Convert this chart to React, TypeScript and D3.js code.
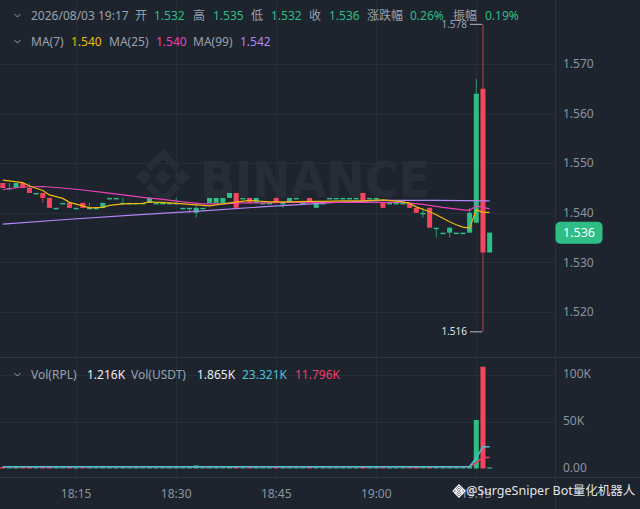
import React from 'react';
import * as d3 from 'd3';

const W = 640;
const H = 509;
const PLOT_R = 555;
const MAIN_B = 357;
const VOL_T = 358;
const AXIS_T = 477;

const BG = '#1e242e';
const GRID = '#272e38';
const UP = '#2ebd85';
const DOWN = '#f6465d';
const LABEL = '#9aa1ac';
const AXIS_TXT = '#8c94a0';
const FONT = "'Noto Sans', 'Noto Sans CJK SC', sans-serif";

// 1m candles, first one at 18:04
const firstCandle = new Date(2026, 7, 3, 18, 4);
const opens = [
  1.546, 1.545, 1.545, 1.546, 1.545, 1.544, 1.544, 1.543, 1.541, 1.542,
  1.542, 1.541, 1.542, 1.541, 1.541, 1.541, 1.543, 1.543, 1.542, 1.542,
  1.542, 1.542, 1.542, 1.542, 1.542, 1.542, 1.542, 1.541, 1.541, 1.540,
  1.541, 1.542, 1.542, 1.542, 1.543, 1.544, 1.543, 1.543, 1.542, 1.542,
  1.542, 1.543, 1.542, 1.542, 1.543, 1.542, 1.543, 1.541, 1.542, 1.543,
  1.543, 1.543, 1.543, 1.543, 1.544, 1.543, 1.543, 1.542, 1.542, 1.542,
  1.542, 1.542, 1.541, 1.540, 1.541, 1.537, 1.536, 1.536, 1.536, 1.536,
  1.536, 1.538, 1.565, 1.532,
];
const highs = [
  1.546, 1.546, 1.546, 1.546, 1.546, 1.544, 1.544, 1.543, 1.541, 1.542,
  1.542, 1.541, 1.542, 1.542, 1.541, 1.542, 1.543, 1.543, 1.543, 1.542,
  1.542, 1.542, 1.543, 1.542, 1.542, 1.542, 1.543, 1.541, 1.541, 1.542,
  1.541, 1.543, 1.543, 1.543, 1.544, 1.544, 1.543, 1.543, 1.543, 1.542,
  1.542, 1.543, 1.542, 1.543, 1.543, 1.542, 1.543, 1.542, 1.542, 1.543,
  1.543, 1.543, 1.543, 1.543, 1.544, 1.543, 1.543, 1.542, 1.542, 1.542,
  1.542, 1.542, 1.541, 1.541, 1.541, 1.537, 1.536, 1.537, 1.536, 1.536,
  1.541, 1.567, 1.578, 1.536,
];
const lows = [
  1.545, 1.545, 1.545, 1.545, 1.544, 1.544, 1.542, 1.541, 1.541, 1.542,
  1.541, 1.541, 1.541, 1.541, 1.541, 1.541, 1.543, 1.543, 1.542, 1.542,
  1.542, 1.542, 1.542, 1.542, 1.542, 1.542, 1.542, 1.541, 1.540, 1.539,
  1.541, 1.542, 1.542, 1.542, 1.543, 1.541, 1.543, 1.542, 1.542, 1.542,
  1.542, 1.542, 1.541, 1.542, 1.543, 1.542, 1.542, 1.541, 1.542, 1.543,
  1.543, 1.543, 1.543, 1.543, 1.542, 1.543, 1.542, 1.541, 1.542, 1.542,
  1.542, 1.541, 1.540, 1.539, 1.537, 1.535, 1.536, 1.535, 1.536, 1.536,
  1.536, 1.538, 1.516, 1.532,
];
const closes = [
  1.545, 1.545, 1.546, 1.545, 1.544, 1.544, 1.543, 1.541, 1.541, 1.542,
  1.541, 1.541, 1.541, 1.541, 1.541, 1.542, 1.543, 1.543, 1.542, 1.542,
  1.542, 1.542, 1.543, 1.542, 1.542, 1.542, 1.542, 1.541, 1.541, 1.541,
  1.541, 1.543, 1.543, 1.543, 1.544, 1.541, 1.543, 1.542, 1.543, 1.542,
  1.542, 1.542, 1.542, 1.543, 1.543, 1.542, 1.542, 1.542, 1.542, 1.543,
  1.543, 1.543, 1.543, 1.543, 1.542, 1.543, 1.543, 1.541, 1.542, 1.542,
  1.542, 1.541, 1.540, 1.540, 1.537, 1.537, 1.536, 1.537, 1.536, 1.536,
  1.540, 1.564, 1.532, 1.536,
];
// volume in K RPL
const volumes = [
  1.6, 1.2, 1.5, 1.3, 1.7, 1.1, 1.4, 1.9, 1.2, 1.1,
  1.4, 1.0, 1.3, 1.1, 1.2, 1.4, 1.1, 1.0, 1.2, 1.1,
  1.0, 1.1, 1.3, 1.0, 1.1, 1.0, 1.2, 1.1, 1.3, 3.2,
  1.1, 1.4, 1.3, 1.2, 1.5, 1.8, 1.1, 1.3, 1.2, 1.0,
  1.1, 1.4, 1.2, 1.3, 1.1, 1.0, 1.4, 1.3, 1.1, 1.0,
  1.1, 1.0, 1.1, 1.0, 1.6, 1.1, 1.2, 1.4, 1.0, 1.1,
  1.1, 1.3, 1.5, 1.2, 2.0, 1.4, 1.1, 1.3, 1.0, 1.1,
  2.4, 51.9, 108.9, 1.216,
];

// moving averages (candle index -> value)
const ma7Idx = [0, 3, 4, 6, 7, 9, 10, 12, 13, 15, 16, 18, 21, 22, 25, 28, 30, 31, 34, 37, 40, 43, 46, 48, 51, 54, 57, 60, 61, 62, 64, 65, 66, 67, 68, 69, 70, 71, 72, 73];
const ma7Val = [1.5466, 1.5461, 1.5454, 1.5445, 1.5436, 1.5429, 1.5421, 1.5414, 1.5410, 1.5411, 1.5415, 1.5418, 1.5419, 1.5422, 1.5420, 1.5417, 1.5415, 1.5414, 1.5420, 1.5425, 1.5422, 1.5422, 1.5423, 1.5423, 1.5424, 1.5424, 1.5426, 1.5422, 1.5419, 1.5412, 1.5402, 1.5396, 1.5389, 1.5382, 1.5376, 1.5371, 1.5369, 1.5406, 1.5401, 1.5401];
const ma25Idx = [0, 3, 6, 9, 12, 15, 18, 21, 24, 27, 30, 33, 36, 39, 42, 48, 54, 60, 63, 66, 69, 70, 71, 72, 73];
const ma25Val = [1.5447, 1.5452, 1.5453, 1.5450, 1.5446, 1.5441, 1.5436, 1.5431, 1.5427, 1.5422, 1.5418, 1.5418, 1.5420, 1.5420, 1.5421, 1.5421, 1.5421, 1.5421, 1.5417, 1.5411, 1.5406, 1.5405, 1.5414, 1.5411, 1.5408];
const ma99Idx = [0, 10, 20, 30, 40, 45, 50, 57, 65, 73];
const ma99Val = [1.5377, 1.5387, 1.5396, 1.5404, 1.5413, 1.5417, 1.5421, 1.5425, 1.5425, 1.5424];
const vma5Idx = [0, 69, 70, 71, 72, 73];
const vma5Val = [1.8, 1.8, 2.2, 11.2, 23.3, 23.3];
const vma10Idx = [0, 70, 71, 72, 73];
const vma10Val = [1.8, 1.9, 6.4, 12.0, 11.8];

const priceTicks = [1.52, 1.53, 1.54, 1.55, 1.56, 1.57];
const volTicks = [0, 50, 100];
const volTickLabels = ['0.00', '50K', '100K'];
const lastPrice = '1.536';

const header1 = [
  { t: '2026/08/03 19:17', c: LABEL, x: 31 },
  { t: '开', c: LABEL, x: 135 }, { t: '1.532', c: UP, x: 154 },
  { t: '高', c: LABEL, x: 193 }, { t: '1.535', c: UP, x: 213 },
  { t: '低', c: LABEL, x: 251 }, { t: '1.532', c: UP, x: 271 },
  { t: '收', c: LABEL, x: 309 }, { t: '1.536', c: UP, x: 329 },
  { t: '涨跌幅', c: LABEL, x: 367 }, { t: '0.26%', c: UP, x: 410 },
  { t: '振幅', c: LABEL, x: 453 }, { t: '0.19%', c: UP, x: 485 },
];
const header2 = [
  { t: 'MA(7)', c: LABEL, x: 31 }, { t: '1.540', c: '#f0b90b', x: 71 },
  { t: 'MA(25)', c: LABEL, x: 109 }, { t: '1.540', c: '#eb40b5', x: 156 },
  { t: 'MA(99)', c: LABEL, x: 193 }, { t: '1.542', c: '#b385f8', x: 240 },
];
const header3 = [
  { t: 'Vol(RPL)', c: LABEL, x: 31 }, { t: '1.216K', c: '#eaecef', x: 87 },
  { t: 'Vol(USDT)', c: LABEL, x: 131 }, { t: '1.865K', c: '#eaecef', x: 197 },
  { t: '23.321K', c: '#4cc1d6', x: 242 }, { t: '11.796K', c: '#ee3f68', x: 295 },
];

const candleTime = (i: number) => d3.timeMinute.offset(firstCandle, i);

const x = d3.scaleTime()
  .domain([new Date(2026, 7, 3, 18, 3, 35), new Date(2026, 7, 3, 19, 26, 48)])
  .range([0, PLOT_R]);
const y = d3.scaleLinear().domain([1.52, 1.57]).range([312, 64]);
const yV = d3.scaleLinear().domain([0, 100]).range([468.5, 375]);

const priceLine = (idx: number[], vals: number[]) =>
  d3.line<number>().x((_, k) => x(candleTime(idx[k]))).y(d => y(d))(vals) || '';
const volLine = (idx: number[], vals: number[]) =>
  d3.line<number>().x((_, k) => x(candleTime(idx[k]))).y(d => yV(d))(vals) || '';

const logoShapes = [
  'M0,-8 L8,0 L0,8 L-8,0 Z',
  'M-19,-8 L-11,0 L-19,8 L-27,0 Z',
  'M19,-8 L27,0 L19,8 L11,0 Z',
  'M0,-28 L17,-11 L12,-6 L0,-18 L-12,-6 L-17,-11 Z',
  'M0,28 L17,11 L12,6 L0,18 L-12,6 L-17,11 Z',
];

const Chevron: React.FC<{ cy: number }> = ({ cy }) => (
  <path d={`M14.5,${cy - 2} L17.5,${cy + 1} L20.5,${cy - 2}`} fill="none" stroke={LABEL} strokeWidth={1} />
);

const HeaderRow: React.FC<{ items: { t: string; c: string; x: number }[]; cy: number }> = ({ items, cy }) => (
  <g>
    <Chevron cy={cy} />
    {items.map((it, k) => (
      <text key={k} x={it.x} y={cy} dy="0.35em" fill={it.c} fontSize={12}>{it.t}</text>
    ))}
  </g>
);

export default function App() {
  const n = closes.length;
  const timeTicks = x.ticks(d3.timeMinute.every(15) as d3.TimeInterval);
  const fmt = d3.timeFormat('%H:%M');

  const hiIdx = d3.maxIndex(highs);
  const loIdx = d3.minIndex(lows);
  const hiX = x(candleTime(hiIdx));
  const loX = x(candleTime(loIdx));

  return (
    <div>
      <style>{`body{margin:0;background:${BG}}`}</style>
      <svg width={W} height={H} style={{ display: 'block', fontFamily: FONT }}>
        <defs>
          <clipPath id="mainClip"><rect x={0} y={0} width={PLOT_R} height={MAIN_B} /></clipPath>
          <clipPath id="volClip"><rect x={0} y={VOL_T} width={PLOT_R} height={AXIS_T - VOL_T} /></clipPath>
        </defs>
        <rect width={W} height={H} fill={BG} />

        {/* grid */}
        {timeTicks.map((t, k) => (
          <line key={'vg' + k} x1={Math.round(x(t)) + 0.5} x2={Math.round(x(t)) + 0.5} y1={0} y2={AXIS_T} stroke={GRID} />
        ))}
        {priceTicks.map((p, k) => (
          <line key={'hg' + k} x1={0} x2={PLOT_R} y1={Math.round(y(p)) + 0.5} y2={Math.round(y(p)) + 0.5} stroke={GRID} />
        ))}
        {volTicks.slice(1).map((v, k) => (
          <line key={'vhg' + k} x1={0} x2={PLOT_R} y1={Math.round(yV(v)) + 0.5} y2={Math.round(yV(v)) + 0.5} stroke={GRID} />
        ))}

        {/* watermark */}
        <g fill="#272d37">
          <g transform="translate(163,177)">
            {logoShapes.map((d, k) => <path key={k} d={d} />)}
          </g>
          <text x={200} y={197} fontSize={50} fontWeight="bold" textLength={230} lengthAdjust="spacingAndGlyphs"
            fontFamily="'DejaVu Sans', sans-serif">BINANCE</text>
        </g>

        {/* pane borders */}
        <line x1={0} x2={W} y1={MAIN_B + 0.5} y2={MAIN_B + 0.5} stroke="#2f3641" />
        <line x1={0} x2={W} y1={AXIS_T + 0.5} y2={AXIS_T + 0.5} stroke="#2f3641" />
        <line x1={PLOT_R + 0.5} x2={PLOT_R + 0.5} y1={0} y2={H} stroke="#2a313b" />

        {/* candles */}
        <g clipPath="url(#mainClip)">
          {d3.range(n).map(i => {
            const cx = x(candleTime(i));
            const up = closes[i] >= opens[i];
            const col = up ? UP : DOWN;
            const top = y(Math.max(opens[i], closes[i]));
            const bot = y(Math.min(opens[i], closes[i]));
            return (
              <g key={i}>
                {highs[i] > lows[i] && (
                  <line x1={cx} x2={cx} y1={y(highs[i])} y2={y(lows[i])} stroke={col} strokeOpacity={0.75} strokeWidth={1} />
                )}
                <rect x={cx - 2.5} y={top} width={5} height={Math.max(1.5, bot - top)} fill={col} />
              </g>
            );
          })}
          <path d={priceLine(ma99Idx, ma99Val)} fill="none" stroke="#b385f8" strokeWidth={1.2} />
          <path d={priceLine(ma25Idx, ma25Val)} fill="none" stroke="#eb40b5" strokeWidth={1.2} />
          <path d={priceLine(ma7Idx, ma7Val)} fill="none" stroke="#f0b90b" strokeWidth={1.2} />
        </g>

        {/* high / low markers */}
        <line x1={hiX - 13} x2={hiX - 1} y1={y(highs[hiIdx])} y2={y(highs[hiIdx])} stroke="#b7bdc6" />
        <text x={hiX - 16} y={y(highs[hiIdx])} dy="0.35em" textAnchor="end" fontSize={10} fill="#9aa1ac">{highs[hiIdx].toFixed(3)}</text>
        <line x1={loX - 13} x2={loX - 1} y1={y(lows[loIdx])} y2={y(lows[loIdx])} stroke="#b7bdc6" />
        <text x={loX - 16} y={y(lows[loIdx])} dy="0.35em" textAnchor="end" fontSize={10} fill="#dfe2e6">{lows[loIdx].toFixed(3)}</text>

        {/* volume */}
        <g clipPath="url(#volClip)">
          {d3.range(n).map(i => {
            const cx = x(candleTime(i));
            const col = closes[i] >= opens[i] ? UP : DOWN;
            const top = yV(volumes[i]);
            return <rect key={i} x={cx - 2.5} y={top} width={5} height={Math.max(1, yV(0) - top)} fill={col} />;
          })}
          <path d={volLine(vma10Idx, vma10Val)} fill="none" stroke="#ee3f68" strokeWidth={1.5} />
          <path d={volLine(vma5Idx, vma5Val)} fill="none" stroke="#4cc1d6" strokeWidth={1.5} />
        </g>

        {/* headers */}
        <HeaderRow items={header1} cy={16} />
        <HeaderRow items={header2} cy={42} />
        <HeaderRow items={header3} cy={375} />

        {/* price axis */}
        {priceTicks.map((p, k) => (
          <text key={'pt' + k} x={563} y={y(p)} dy="0.35em" fontSize={12} fill={AXIS_TXT}>{p.toFixed(3)}</text>
        ))}
        <rect x={555.5} y={y(+lastPrice) - 11} width={47} height={22} rx={5} fill={UP} />
        <text x={579} y={y(+lastPrice)} dy="0.35em" textAnchor="middle" fontSize={12.5} fill="#ffffff">{lastPrice}</text>

        {/* volume axis */}
        {volTicks.map((v, k) => (
          <text key={'vt' + k} x={563} y={yV(v) - 1} dy="0.35em" fontSize={12} fill={AXIS_TXT}>{volTickLabels[k]}</text>
        ))}

        {/* time axis */}
        {timeTicks.map((t, k) => (
          <text key={'tt' + k} x={x(t)} y={494} dy="0.35em" textAnchor="middle" fontSize={12} fill={AXIS_TXT}>{fmt(t)}</text>
        ))}

        {/* bottom watermark */}
        <g fill="#ffffff" fillOpacity={0.9}>
          <g transform="translate(459,491) scale(0.22)">
            {logoShapes.map((d, k) => <path key={k} d={d} fill="none" stroke="#ffffff" strokeWidth={5} />)}
          </g>
          <text x={466} y={491} dy="0.35em" fontSize={12.5}>@SurgeSniper Bot量化机器人</text>
        </g>
      </svg>
    </div>
  );
}
